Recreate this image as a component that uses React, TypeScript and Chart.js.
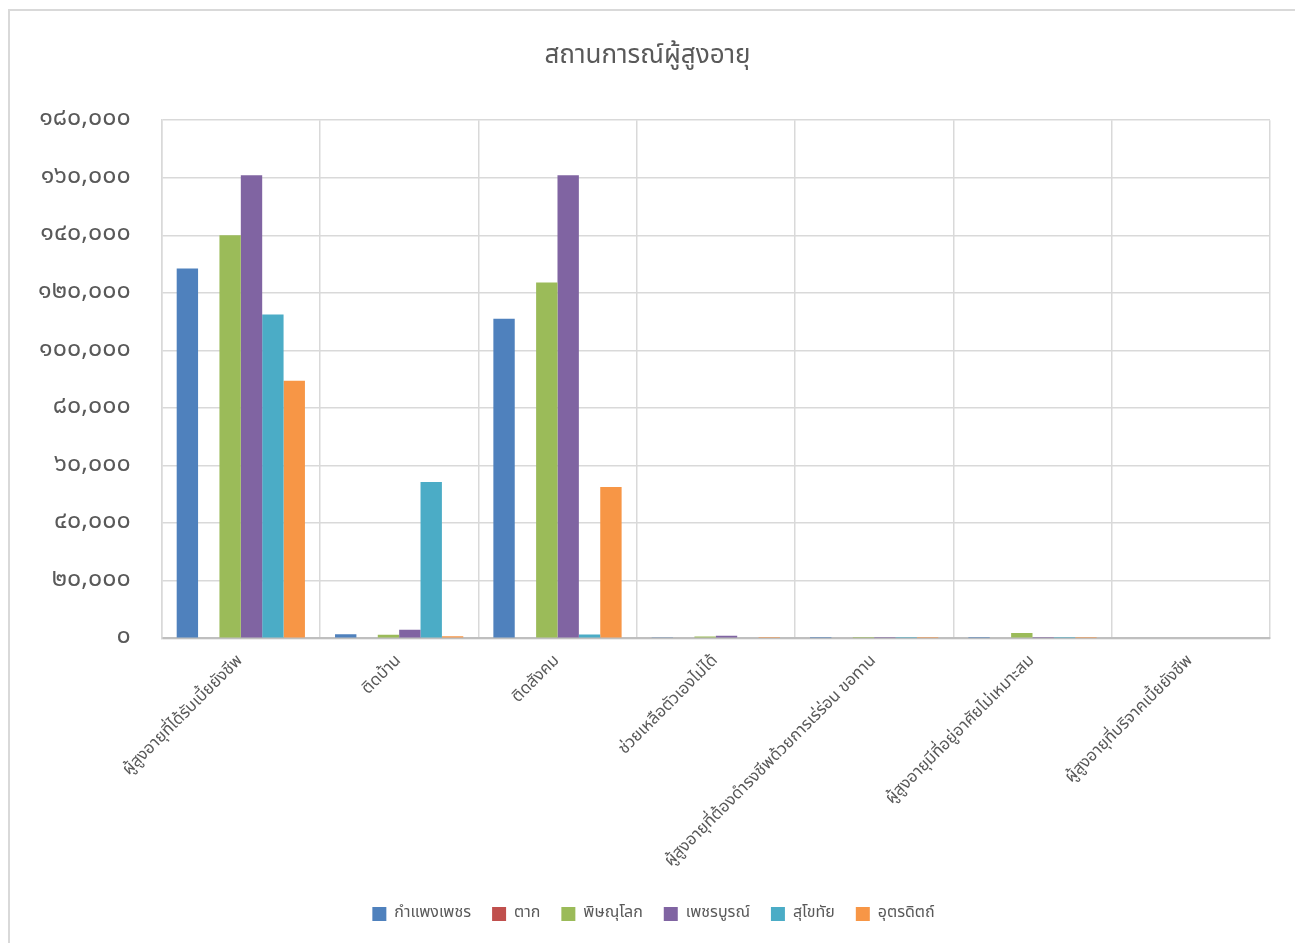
import React, { useEffect, useRef } from "react";
import { Chart, registerables } from "chart.js";

Chart.register(...registerables);

const categories = [
  "ผู้สูงอายุที่ได้รับเบี้ยยังชีพ",
  "ติดบ้าน",
  "ติดสังคม",
  "ช่วยเหลือตัวเองไม่ได้",
  "ผู้สูงอายุที่ต้องดำรงชีพด้วยการเร่ร่อน ขอทาน",
  "ผู้สูงอายุมีที่อยู่อาศัยไม่เหมาะสม",
  "ผู้สูงอายุที่บริจาคเบี้ยยังชีพ",
];

const seriesNames = ["กำแพงเพชร", "ตาก", "พิษณุโลก", "เพชรบูรณ์", "สุโขทัย", "อุตรดิตถ์"];
const seriesColors = ["#4f81bd", "#c0504d", "#9bbb59", "#8064a2", "#4bacc6", "#f79646"];

const kamphaengphet = [128500, 1400, 111000, 400, 50, 50, 0];
const tak = [0, 0, 0, 0, 0, 0, 0];
const phitsanulok = [140000, 1200, 123600, 600, 50, 1800, 0];
const phetchabun = [160900, 3000, 160900, 900, 50, 50, 0];
const sukhothai = [112500, 54300, 1300, 300, 50, 50, 0];
const uttaradit = [89500, 700, 52600, 100, 50, 50, 0];

const seriesValues = [kamphaengphet, tak, phitsanulok, phetchabun, sukhothai, uttaradit];

const thaiDigits = ["๐", "๑", "๒", "๓", "๔", "๕", "๖", "๗", "๘", "๙"];
const toThai = (s: string) => s.replace(/[0-9]/g, (d) => thaiDigits[Number(d)]);

const FONT = "'Noto Sans Thai', 'Leelawadee UI', Tahoma, 'Noto Sans', sans-serif";

const centerShift = {
  id: "centerShift",
  afterLayout(chart: any) {
    if (chart.legend) {
      chart.legend.left += 15;
      chart.legend.right += 15;
    }
    if (chart.titleBlock) {
      chart.titleBlock.left += 9;
      chart.titleBlock.right += 9;
    }
  },
};

export default function App() {
  const ref = useRef<HTMLCanvasElement | null>(null);
  useEffect(() => {
    if (!ref.current) return;
    const chart = new Chart(ref.current, {
      type: "bar",
      data: {
        labels: categories,
        datasets: seriesNames.map((name, i) => ({
          label: name,
          data: seriesValues[i],
          backgroundColor: seriesColors[i],
          borderWidth: 0,
          categoryPercentage: 0.81,
          barPercentage: 1,
        })),
      },
      plugins: [centerShift],
      options: {
        animation: false,
        responsive: false,
        maintainAspectRatio: false,
        layout: { padding: { left: -3, right: 27, top: 0, bottom: 15 } },
        plugins: {
          title: {
            display: true,
            text: "สถานการณ์ผู้สูงอายุ",
            color: "#595959",
            font: { family: FONT, size: 26, weight: "normal" },
            padding: { top: 31, bottom: 47 },
          },
          legend: {
            position: "bottom",
            labels: {
              color: "#595959",
              font: { family: FONT, size: 16 },
              boxWidth: 14,
              boxHeight: 14,
              padding: 21,
            },
          },
          tooltip: { enabled: false },
        },
        scales: {
          x: {
            grid: { color: "#d9d9d9", lineWidth: 1.5, drawTicks: false, offset: true },
            border: { color: "#bfbfbf", width: 2 },
            ticks: {
              color: "#595959",
              font: { family: FONT, size: 16.5 },
              maxRotation: 45,
              minRotation: 45,
              autoSkip: false,
              padding: 13.5,
            },
          },
          y: {
            min: 0,
            max: 180000,
            grid: { color: "#d9d9d9", lineWidth: 1.5, drawTicks: false },
            border: { color: "#d9d9d9", width: 1.5 },
            ticks: {
              stepSize: 20000,
              color: "#595959",
              font: { family: FONT, size: 25 },
              padding: 31,
              callback: (v: any) => toThai(Number(v).toLocaleString("en-US")),
            },
          },
        },
      },
    });
    return () => chart.destroy();
  }, []);
  return (
    <div
      style={{
        width: 1291,
        height: 940,
        border: "2px solid #d9d9d9",
        marginTop: 1,
        boxSizing: "border-box",
        background: "#fff",
      }}
    >
      <canvas ref={ref} width={1287} height={936} style={{ display: "block" }} />
    </div>
  );
}
